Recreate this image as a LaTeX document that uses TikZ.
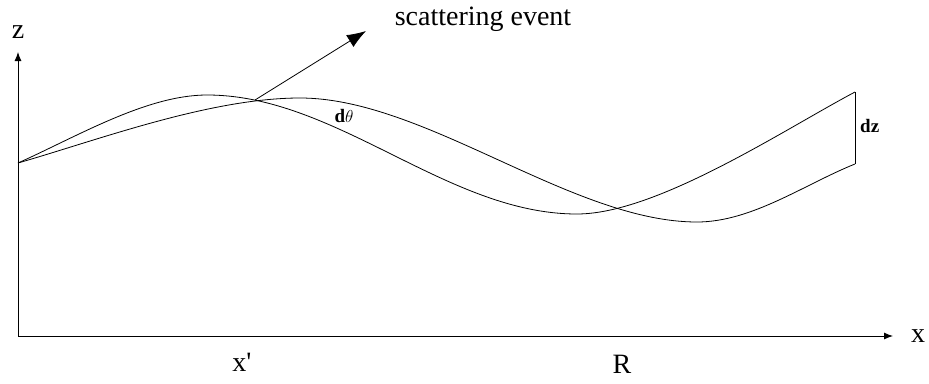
\documentclass[tikz,border=0pt]{standalone}
\usepackage{fontspec}
\usepackage{tikz}
\usetikzlibrary{arrows.meta}
\newfontfamily\labelfont{Liberation Serif}
\definecolor{ink}{HTML}{000000}
\tikzset{
  >=Latex,
  every node/.style={text=ink,inner sep=1pt},
  axis/.style={->,line width=0.9pt,draw=ink,>={Latex[length=9pt,width=7pt]}},
  ray/.style={line width=0.8pt,draw=ink},
  scatter/.style={->,line width=0.8pt,draw=ink,>={Latex[length=19pt,width=14pt]}},
  axislabel/.style={font=\labelfont\fontsize{28}{28}\selectfont},
  smalllabel/.style={font=\labelfont\bfseries\fontsize{19}{19}\selectfont},
  eventlabel/.style={font=\labelfont\fontsize{28}{28}\selectfont},
}
\begin{document}
\begin{tikzpicture}[x=1pt,y=-1pt]
\useasboundingbox (0,0) rectangle (929,383);

% axes
\coordinate (origin) at (18,336);
\coordinate (ztip) at (18,52);
\coordinate (xtip) at (893,336);
\draw[axis] (origin) -- (ztip);
\draw[axis] (origin) -- (xtip);
\node[axislabel] (zlab) at (18,32) {z};
\node[axislabel] (xlab) at (918,336) {x};
\node[axislabel] (xprime) at (242,362) {x'};
\node[axislabel] (rlab) at (622,364) {R};

% the two paths
\coordinate (start) at (18,163);
\coordinate (event) at (255,100);
\coordinate (topend) at (855,92);
\coordinate (lowend) at (855,164);
\draw[ray] (start) .. controls (78,136) and (147,95) .. (207,95)
  .. controls (337,95) and (447,214) .. (577,214)
  .. controls (657,214) and (785,129) .. (topend);
\draw[ray] (start) .. controls (98,140) and (210,98) .. (300,98)
  .. controls (425,98) and (572,222) .. (697,222)
  .. controls (752,222) and (805,184) .. (lowend);
\draw[ray] (topend) -- (lowend);

% scattering
\coordinate (evtip) at (366,31);
\draw[scatter] (event) -- (evtip);
\node[eventlabel] (evlab) at (483,19) {scattering event};
\node[smalllabel] (dtheta) at (344,116) {d$\theta$};
\node[smalllabel,anchor=west] (dz) at (859,126) {dz};

\end{tikzpicture}
\end{document}
